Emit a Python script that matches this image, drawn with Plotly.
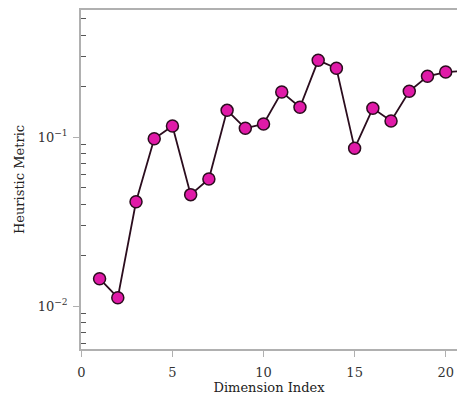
import numpy as np
import plotly.graph_objects as go

# Heuristic metric recorded for each dimension index
dimension_index = list(range(1, 22))
heuristic_metric = [
    0.0145, 0.0112, 0.0414, 0.0977, 0.1162, 0.0456, 0.0564, 0.1438, 0.1126, 0.1194,
    0.1845, 0.1499, 0.2843, 0.2550, 0.0857, 0.1478, 0.1244, 0.1864, 0.2286, 0.2424,
    0.2460,
]
x_ticks = [0, 5, 10, 15, 20]

FONT = "DejaVu Serif"
AXIS_GRAY = "#b0b0b0"
TEXT = "#333333"

fig = go.Figure()
fig.add_trace(go.Scatter(
    x=dimension_index,
    y=heuristic_metric,
    mode="lines+markers",
    line=dict(color="#2b0d1e", width=1.8),
    marker=dict(size=12, color="#e01aa8", line=dict(color="#2b0d1e", width=1.5)),
    showlegend=False,
))

fig.update_layout(
    width=457, height=399,
    margin=dict(l=81, r=0, t=10, b=50),
    paper_bgcolor="white",
    plot_bgcolor="white",
    font=dict(family=FONT, size=13, color=TEXT),
)

fig.update_xaxes(
    range=[-0.02, 20.62],
    tickvals=x_ticks,
    ticks="outside", ticklen=6, tickcolor=AXIS_GRAY, tickwidth=1,
    ticklabelstandoff=4,
    showline=True, linecolor=AXIS_GRAY, linewidth=2, mirror=True,
    showgrid=False, zeroline=False,
    tickfont=dict(family=FONT, size=13, color=TEXT),
    title=dict(text="Dimension Index", font=dict(family=FONT, size=13, color="#222222"), standoff=4),
)

fig.update_yaxes(
    type="log",
    range=[-2.2544, -0.2485],
    tickvals=[0.01, 0.1],
    ticktext=["10<sup>−2</sup>", "10<sup>−1</sup>"],
    ticks="outside", ticklen=6, tickcolor=AXIS_GRAY, tickwidth=1,
    ticklabelstandoff=3,
    minor=dict(ticks="inside", ticklen=5, tickcolor="#555555", tickwidth=1,
               tickvals=[0.006, 0.007, 0.008, 0.009, 0.02, 0.03, 0.04, 0.05, 0.06,
                         0.07, 0.08, 0.09, 0.2, 0.3, 0.4, 0.5], showgrid=False),
    showline=True, linecolor=AXIS_GRAY, linewidth=1.5,
    showgrid=False, zeroline=False,
    tickfont=dict(family=FONT, size=13, color=TEXT),
    title=dict(text="Heuristic Metric", font=dict(family=FONT, size=13, color="#222222"), standoff=10),
)

fig.write_html("out.html")
